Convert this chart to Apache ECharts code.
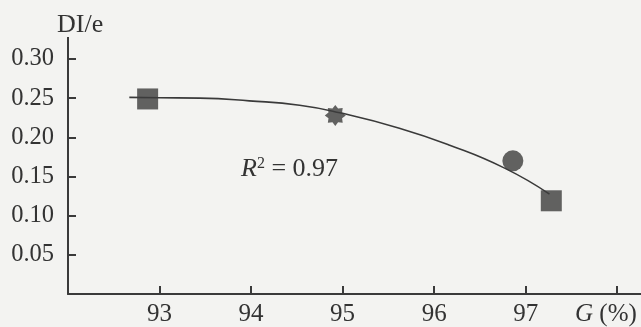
<!DOCTYPE html>
<html>
<head>
<meta charset="utf-8">
<script src="https://cdn.jsdelivr.net/npm/echarts@6/dist/echarts.min.js"></script>
<style>
  html, body { margin: 0; padding: 0; background: #f3f3f1; }
  #chart { width: 641px; height: 327px; }
</style>
</head>
<body>
<div id="chart"></div>
<script>
// measured points (G %, DI/e)
const squareG = [92.87, 97.28];
const squareDI = [0.249, 0.119];
const starG = [94.92];
const starDI = [0.228];
const circleG = [96.86];
const circleDI = [0.170];

// fitted curve
const curveG = [92.67, 93.0, 93.44, 93.98, 94.53, 94.97, 95.62, 96.17, 96.77, 97.26];
const curveDI = [0.251, 0.2505, 0.2500, 0.2466, 0.241, 0.2313, 0.2117, 0.190, 0.1607, 0.1276];

const xLabels = [93, 94, 95, 96, 97];

const ink = '#3a3a3a';
const font = 'Liberation Serif';

const pairs = (xs, ys) => xs.map((x, i) => [x, ys[i]]);

// 8 point star
const starPath = 'path://M20,10 L16.47,12.68 L17.07,17.07 L12.68,16.47 L10,20 L7.32,16.47 L2.93,17.07 L3.53,12.68 L0,10 L3.53,7.32 L2.93,2.93 L7.32,3.53 L10,0 L12.68,3.53 L17.07,2.93 L16.47,7.32 Z';

const chart = echarts.init(document.getElementById('chart'));
chart.setOption({
  backgroundColor: '#f3f3f1',
  animation: false,
  grid: { left: 68, right: 0, top: 59, bottom: 33, outerBoundsMode: 'none' },
  xAxis: {
    type: 'value',
    min: 92,
    max: 98.26,
    interval: 1,
    splitLine: { show: true, lineStyle: { color: 'rgba(0,0,0,0)' } },
    axisLine: { show: true, lineStyle: { color: ink, width: 2 } },
    axisTick: { show: true, inside: true, length: 8, lineStyle: { color: ink, width: 2 } },
    axisLabel: {
      showMinLabel: false,
      showMaxLabel: false,
      margin: 8,
      color: '#333',
      fontFamily: font,
      fontSize: 25,
      formatter: v => xLabels.includes(v) ? String(v) : ''
    }
  },
  yAxis: {
    type: 'value',
    min: 0,
    max: 0.30,
    interval: 0.05,
    splitLine: { show: true, lineStyle: { color: 'rgba(0,0,0,0)' } },
    axisLine: { show: true, lineStyle: { color: ink, width: 2 } },
    axisTick: { show: true, inside: true, length: 8, lineStyle: { color: ink, width: 2 } },
    axisLabel: {
      showMinLabel: false,
      margin: 14,
      color: '#333',
      fontFamily: font,
      fontSize: 24.5,
      formatter: v => v.toFixed(2)
    }
  },
  graphic: [
    // axis line continues above the 0.30 tick
    { type: 'line', shape: { x1: 68, y1: 37, x2: 68, y2: 60 }, style: { stroke: ink, lineWidth: 2 } },
    { type: 'text', left: 57, top: 12, style: { text: 'DI/e', fontFamily: font, fontSize: 26, fill: '#333' } },
    {
      type: 'text', left: 575, top: 302,
      style: {
        text: '{i|G} (%)',
        fontFamily: font, fontSize: 25, fill: '#333',
        rich: { i: { fontStyle: 'italic', fontFamily: font, fontSize: 25, fill: '#333' } }
      }
    },
    {
      type: 'text', left: 241, top: 156,
      style: {
        text: '{r|R}{s|2} = 0.97',
        fontFamily: font, fontSize: 26, fill: '#333',
        rich: {
          r: { fontStyle: 'italic', fontFamily: font, fontSize: 26, fill: '#333' },
          s: { fontFamily: font, fontSize: 16, verticalAlign: 'top', padding: [0, 0, 10, 0], fill: '#333' }
        }
      }
    }
  ],
  series: [
    {
      type: 'line',
      data: pairs(curveG, curveDI),
      smooth: true,
      showSymbol: false,
      lineStyle: { color: ink, width: 1.6 },
      z: 1
    },
    {
      type: 'scatter',
      data: pairs(squareG, squareDI),
      symbol: 'rect',
      symbolSize: 21,
      itemStyle: { color: '#3c3c3c' },
      z: 3
    },
    {
      type: 'scatter',
      data: pairs(starG, starDI),
      symbol: starPath,
      symbolSize: 21,
      itemStyle: { color: '#3c3c3c' },
      z: 3
    },
    {
      type: 'scatter',
      data: pairs(circleG, circleDI),
      symbol: 'circle',
      symbolSize: 21,
      itemStyle: { color: '#3c3c3c' },
      z: 3
    }
  ]
});
</script>
</body>
</html>
